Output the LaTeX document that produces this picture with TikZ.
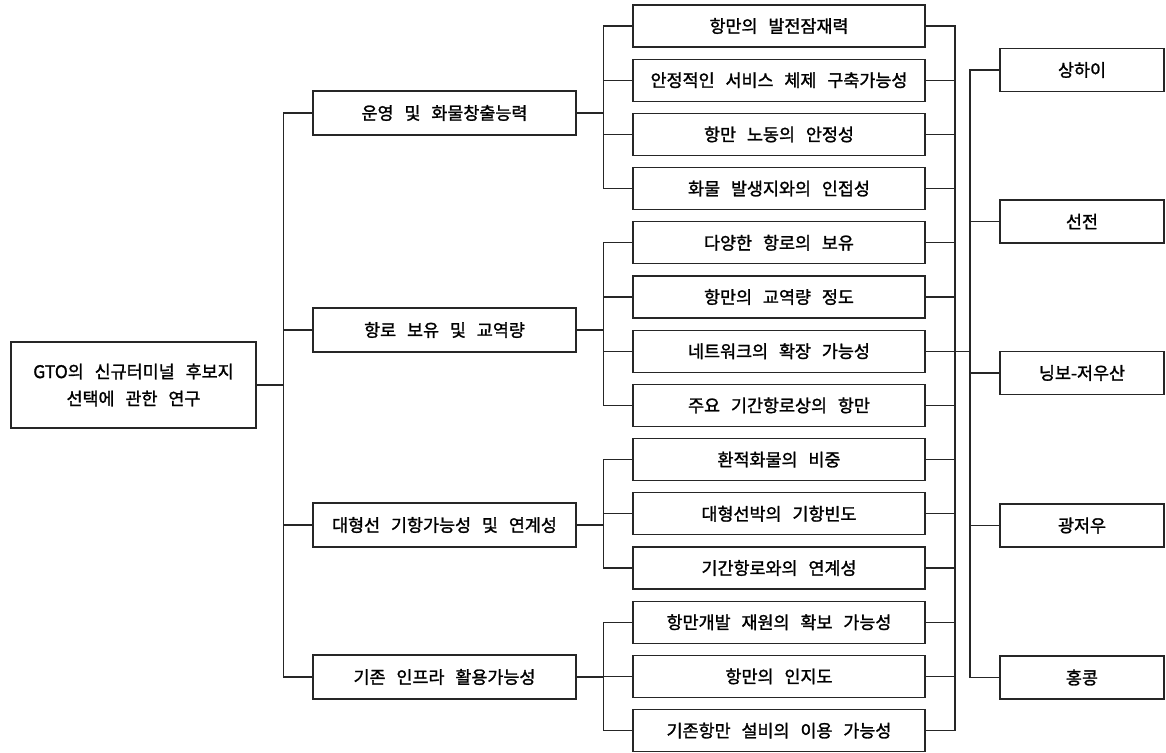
\documentclass[tikz,border=0pt]{standalone}
\usepackage{fontspec}
\setmainfont{Noto Sans CJK KR}[WordSpace=2.8, FakeBold=1.5]
\begin{document}
\begin{tikzpicture}[x=1pt,y=-1pt,
  box/.style={draw=black!85, line width=1.3pt, fill=white, inner sep=0pt, align=center, font=\fontsize{17.4}{27}\selectfont},
  rootbox/.style={box, minimum width=245pt, minimum height=86pt},
  lone/.style={box, minimum width=263pt, minimum height=44pt},
  ltwo/.style={box, minimum width=292pt, minimum height=42pt},
  lthree/.style={box, minimum width=164pt, minimum height=43pt},
  link/.style={draw=black!85, line width=1.2pt}]
\useasboundingbox (0,0) rectangle (1166,752);
% root
\node[rootbox] (root) at (133.5,385) {GTO의 신규터미널 후보지\\선택에 관한 연구};
% level 1
\node[lone] (a1) at (444.5,113) {운영 및 화물창출능력};
\node[lone] (a2) at (444.5,330) {항로 보유 및 교역량};
\node[lone] (a3) at (444.5,525) {대형선 기항가능성 및 연계성};
\node[lone] (a4) at (444.5,677) {기존 인프라 활용가능성};
% level 2
\node[ltwo] (b1)  at (779,26.0)  {항만의 발전잠재력};
\node[ltwo] (b2)  at (779,80.2)  {안정적인 서비스 체제 구축가능성};
\node[ltwo] (b3)  at (779,134.4) {항만 노동의 안정성};
\node[ltwo] (b4)  at (779,188.6) {화물 발생지와의 인접성};
\node[ltwo] (b5)  at (779,242.8) {다양한 항로의 보유};
\node[ltwo] (b6)  at (779,297.0) {항만의 교역량 정도};
\node[ltwo] (b7)  at (779,351.2) {네트워크의 확장 가능성};
\node[ltwo] (b8)  at (779,405.4) {주요 기간항로상의 항만};
\node[ltwo] (b9)  at (779,459.6) {환적화물의 비중};
\node[ltwo] (b10) at (779,513.8) {대형선박의 기항빈도};
\node[ltwo] (b11) at (779,568.0) {기간항로와의 연계성};
\node[ltwo] (b12) at (779,622.2) {항만개발 재원의 확보 가능성};
\node[ltwo] (b13) at (779,676.4) {항만의 인지도};
\node[ltwo] (b14) at (779,730.6) {기존항만 설비의 이용 가능성};
% level 3
\node[lthree] (c1) at (1082,70)    {상하이};
\node[lthree] (c2) at (1082,221.5) {선전};
\node[lthree] (c3) at (1082,373)   {닝보-저우산};
\node[lthree] (c4) at (1082,525.5) {광저우};
\node[lthree] (c5) at (1082,677.5) {홍콩};
% root to level 1
\foreach \n in {a1,a2,a3,a4}
  \draw[link] (root.east) -- ++(27,0) |- (\n.west);
% level 1 to level 2
\foreach \n in {b1,b2,b3,b4}   \draw[link] (a1.east) -- ++(27,0) |- (\n.west);
\foreach \n in {b5,b6,b7,b8}   \draw[link] (a2.east) -- ++(27,0) |- (\n.west);
\foreach \n in {b9,b10,b11}    \draw[link] (a3.east) -- ++(27,0) |- (\n.west);
\foreach \n in {b12,b13,b14}   \draw[link] (a4.east) -- ++(27,0) |- (\n.west);
% level 2 to hub
\coordinate (hub) at (955,351.2);
\coordinate (hubr) at (970,351.2);
\foreach \n in {b1,b2,b3,b4,b5,b6,b7,b8,b9,b10,b11,b12,b13,b14}
  \draw[link] (\n.east) -| (hub);
\draw[link] (hub) -- (hubr);
\foreach \n in {c1,c2,c3,c4,c5}
  \draw[link] (hubr) |- (\n.west);
\end{tikzpicture}
\end{document}
